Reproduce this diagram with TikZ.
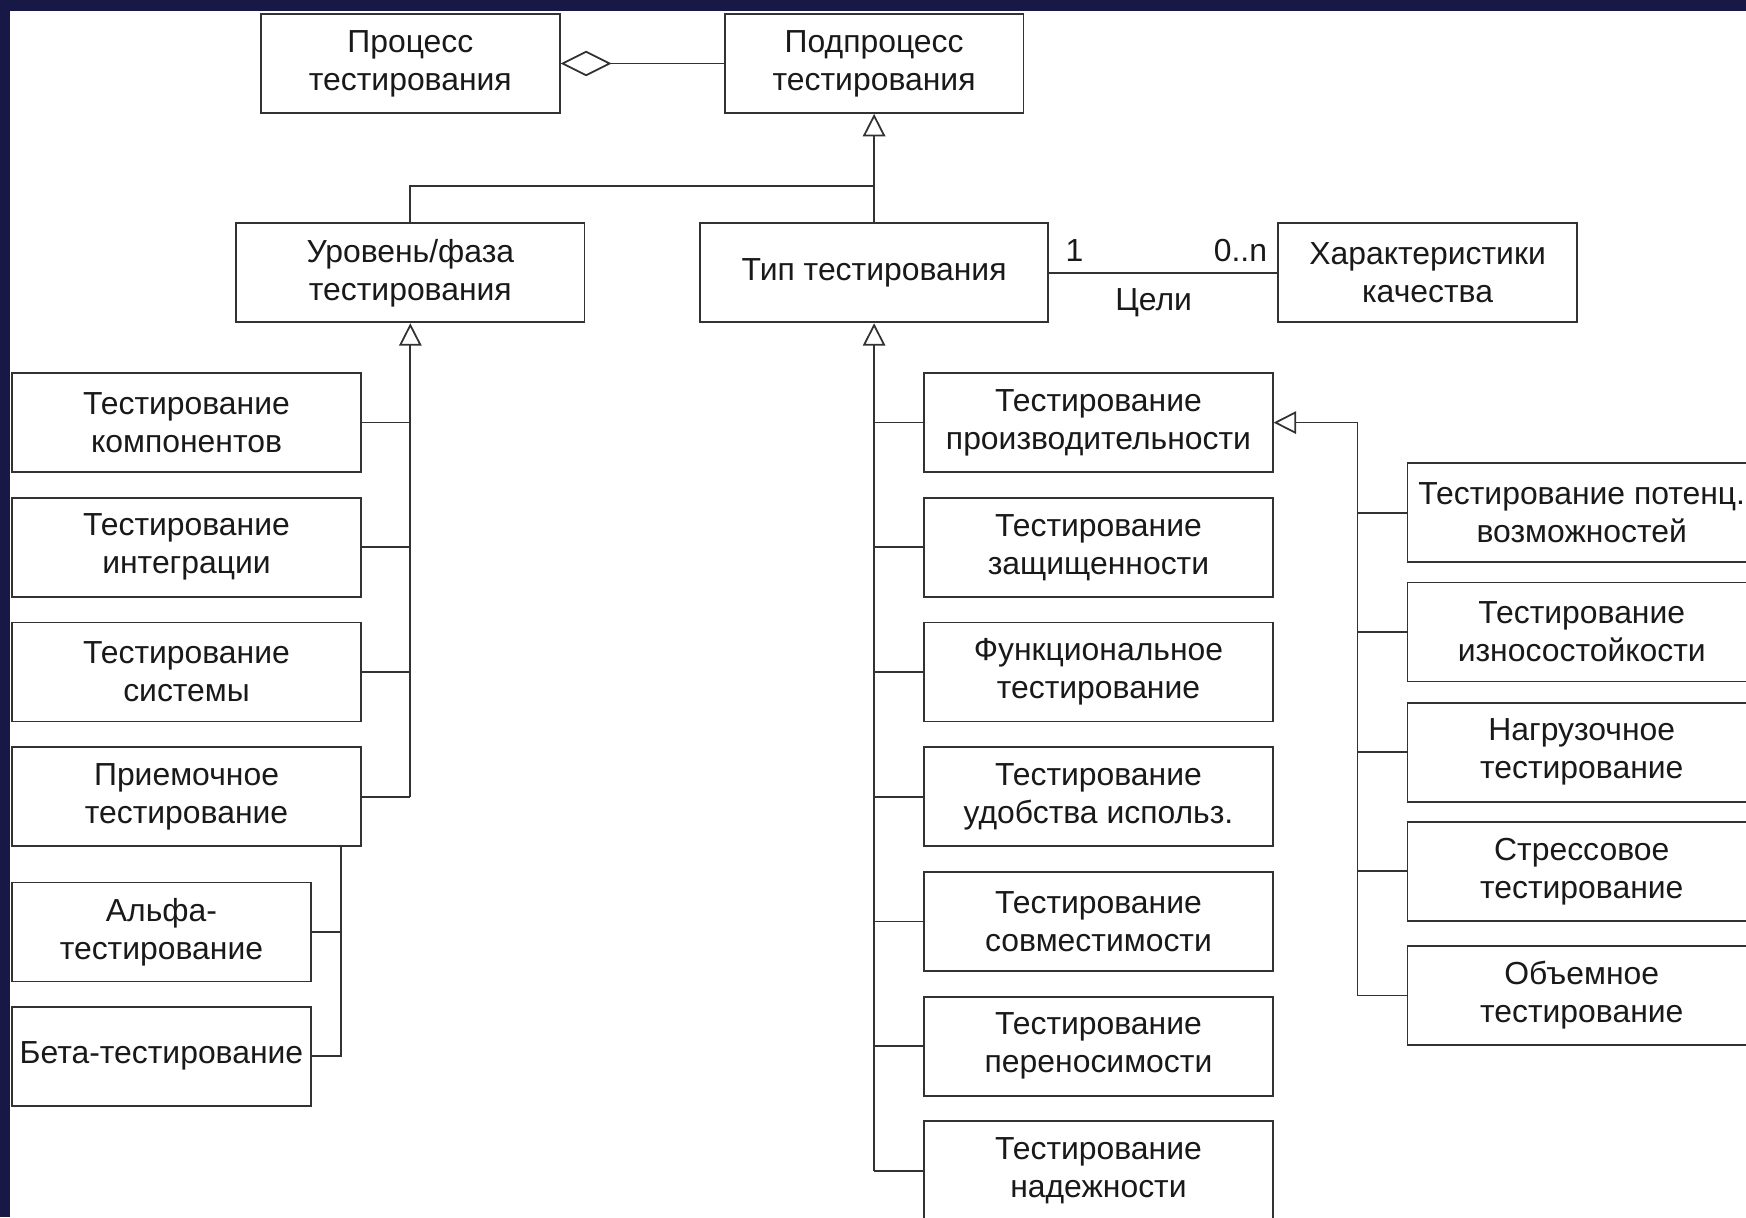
\documentclass[tikz,border=0pt]{standalone}
\usepackage{fontspec}
\setmainfont{Liberation Sans}
\usetikzlibrary{arrows.meta}
\definecolor{navy}{RGB}{23,24,70}
\definecolor{boxline}{RGB}{50,50,50}
\definecolor{txt}{RGB}{25,25,25}
\begin{document}
\begin{tikzpicture}[x=0.02cm,y=-0.02cm,
  box/.style={draw=boxline,line width=0.9pt,fill=white,align=center,text=txt,
    minimum height=1.78cm,inner sep=0pt,font=\fontsize{16.3}{19.4}\selectfont},
  wide/.style={box,minimum width=6.26cm},
  narrow/.style={box,minimum width=5.37cm},
  conn/.style={draw=boxline,line width=0.9pt},
  gen/.style={conn,-{Triangle[open,length=11.5pt,width=11.5pt]}},
  agg/.style={conn,-{Diamond[open,length=26pt,width=13pt]}},
  lbl/.style={text=txt,font=\fontsize{16.3}{19.4}\selectfont,inner sep=0pt}]
\useasboundingbox (0,0) rectangle (1568,1093);
\clip (0,0) rectangle (1568,1093);
\fill[white] (0,0) rectangle (1568,1093);
\fill[navy] (0,0) rectangle (1568,10);
\fill[navy] (0,0) rectangle (9,1093);

% top
\node[narrow] (proc) at (368.5,57) {Процесс\\тестирования};
\node[narrow] (pod) at (785,57) {Подпроцесс\\тестирования};
\node[wide] (ur) at (368.5,245) {Уровень/фаза\\тестирования};
\node[wide] (tip) at (785,245) {Тип тестирования};
\node[narrow] (har) at (1282,245) {Характеристики\\качества};

% left column
\node[wide] (kom) at (167.5,379.5) {Тестирование\\компонентов};
\node[wide] (int) at (167.5,491.5) {Тестирование\\интеграции};
\node[wide] (sys) at (167.5,603.5) {Тестирование\\системы};
\node[wide] (pri) at (167.5,715.5) {Приемочное\\тестирование};
\node[narrow] (alf) at (145,837) {Альфа-\\тестирование};
\node[narrow] (bet) at (145,948.5) {Бета-тестирование};

% middle column
\node[wide] (proi) at (986.5,379.5) {Тестирование\\производительности};
\node[wide] (zas) at (986.5,491.5) {Тестирование\\защищенности};
\node[wide] (fun) at (986.5,603.5) {Функциональное\\тестирование};
\node[wide] (udo) at (986.5,715.5) {Тестирование\\удобства использ.};
\node[wide] (sov) at (986.5,827.5) {Тестирование\\совместимости};
\node[wide] (per) at (986.5,939.5) {Тестирование\\переносимости};
\node[wide] (nad) at (986.5,1051.5) {Тестирование\\надежности};

% right column
\node[wide] (pot) at (1420.5,460.5) {Тестирование потенц.\\возможностей};
\node[wide] (izn) at (1420.5,567.5) {Тестирование\\износостойкости};
\node[wide] (nag) at (1420.5,675.5) {Нагрузочное\\тестирование};
\node[wide] (str) at (1420.5,782.5) {Стрессовое\\тестирование};
\node[wide] (obm) at (1420.5,894) {Объемное\\тестирование};

% connectors top
\draw[agg] (pod.west) -- (proc.east);
\draw[gen] (tip.north) -- (pod.south);
\coordinate (j1) at (785,167);
\draw[conn] (ur.north) |- (j1);

% association
\draw[conn] (tip.east) -- (har.west);
\node[lbl] (m1) at (965,225) {1};
\node[lbl] (m2) at (1114,225) {0..n};
\node[lbl] (goal) at (1036,272) {Цели};

% left tree
\draw[gen] (ur.south |- pri.east) -- (ur.south);
\foreach \n in {kom,int,sys,pri} \draw[conn] (\n.east) -- (\n.east -| ur.south);
\coordinate (ab) at (306,759);
\draw[conn] (ab) |- (bet.east);
\draw[conn] (alf.east) -- (alf.east -| ab);

% middle tree
\draw[gen] (tip.south |- nad.west) -- (tip.south);
\foreach \n in {proi,zas,fun,udo,sov,per,nad} \draw[conn] (\n.west) -- (\n.west -| tip.south);

% right tree
\coordinate (rb) at (1219,0);
\draw[gen] (rb |- obm.west) |- (proi.east);
\foreach \n in {pot,izn,nag,str,obm} \draw[conn] (\n.west) -- (\n.west -| rb);
\end{tikzpicture}
\end{document}
